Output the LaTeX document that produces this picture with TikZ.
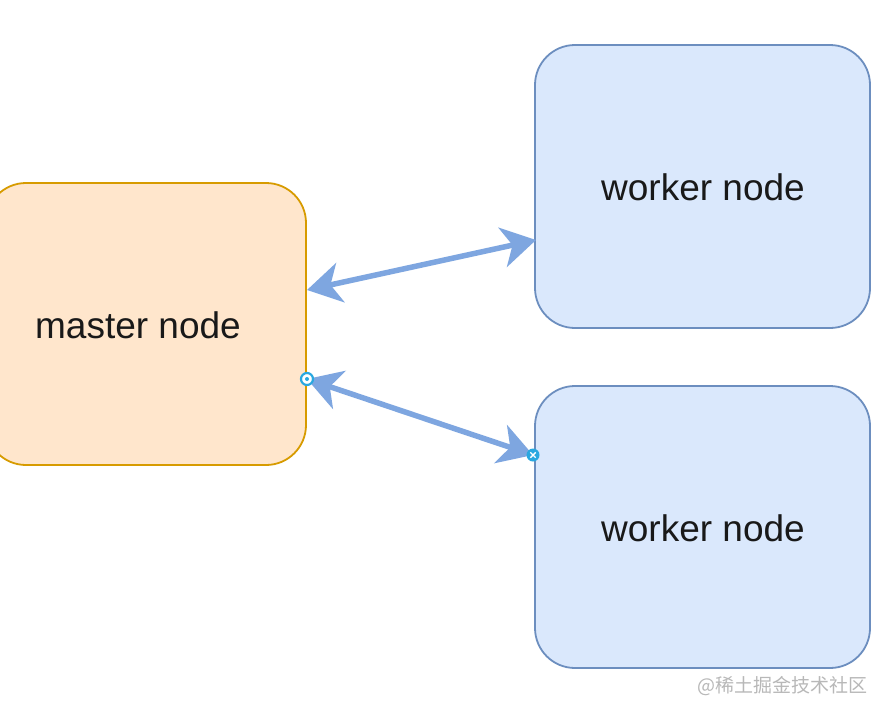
\documentclass[tikz,border=0pt]{standalone}
\usepackage{fontspec}
\setmainfont{Liberation Sans}
\newfontfamily\cjk{Noto Sans CJK SC}
\usetikzlibrary{arrows.meta,calc}
\definecolor{mfill}{HTML}{FFE6CC}
\definecolor{mdraw}{HTML}{D79B00}
\definecolor{wfill}{HTML}{DAE8FC}
\definecolor{wdraw}{HTML}{6C8EBF}
\definecolor{arr}{HTML}{7EA6E0}
\definecolor{sel}{HTML}{29A8E0}
\definecolor{wm}{HTML}{B8B8B8}
\tikzset{
  box/.style={rectangle, rounded corners=40pt, line width=1.8pt, inner sep=0pt},
  masterbox/.style={box, fill=mfill, draw=mdraw},
  workerbox/.style={box, fill=wfill, draw=wdraw, minimum width=335pt},
  lbl/.style={font=\fontsize{37}{44}\selectfont, text=black!90},
  link/.style={draw=arr, line width=5.5pt, {Stealth[length=34pt,width=40pt,inset=10pt]}-{Stealth[length=34pt,width=40pt,inset=10pt]}},
  selo/.style={circle, draw=sel, fill=white, line width=2.2pt, minimum size=12pt, inner sep=0pt},
  selx/.style={circle, fill=sel, minimum size=13pt, inner sep=0pt}
}
\begin{document}
\begin{tikzpicture}[x=1pt,y=-1pt]
\useasboundingbox[fill=white] (0,0) rectangle (877,704);
\node[masterbox, minimum width=320pt, minimum height=282pt] (master) at (146,324) {};
\node[lbl] (mlabel) at (138,325) {master node};
\node[workerbox, minimum height=283pt] (w1) at (702.5,186.5) {};
\node[lbl] (w1label) at (703,187) {worker node};
\node[workerbox, minimum height=282pt] (w2) at (702.5,527) {};
\node[lbl] (w2label) at (703,528) {worker node};
\coordinate (a1) at (307,290);
\coordinate (b1) at (536,240);
\coordinate (a2) at (307,379);
\coordinate (b2) at (533,455);
\draw[link] (a1) -- (b1);
\draw[link] (a2) -- (b2);
\node[selo] (s1) at (a2) {};
\node[circle, fill=sel, minimum size=4pt, inner sep=0pt] (s1dot) at (a2) {};
\node[selx] (s2) at (b2) {};
\draw[white, line width=1.4pt] ($(b2)+(-2.7,-2.7)$) -- ($(b2)+(2.7,2.7)$) ($(b2)+(-2.7,2.7)$) -- ($(b2)+(2.7,-2.7)$);
\node[text=wm, font=\cjk\fontsize{19}{22}\selectfont, anchor=east] (wmark) at (871,686) {@稀土掘金技术社区};
\end{tikzpicture}
\end{document}
